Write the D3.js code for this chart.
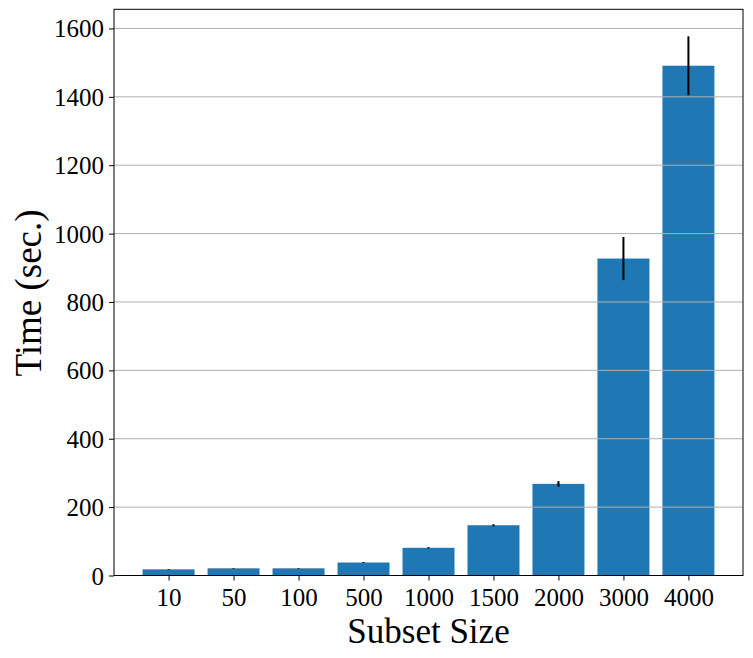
<!DOCTYPE html>
<html>
<head>
<meta charset="utf-8">
<script src="https://cdn.jsdelivr.net/npm/d3@7"></script>
<style>
html,body{margin:0;padding:0;background:#fff;}
svg{display:block;}
text{font-family:"Liberation Serif","Times New Roman",serif;fill:#000;}
</style>
</head>
<body>
<script>
const categories = ["10","50","100","500","1000","1500","2000","3000","4000"];
const times = [18, 21, 21, 38, 81, 147, 268, 927, 1491];
const errors = [1, 1, 1, 1.5, 2, 3, 8, 63, 86];
const yTicks = [0,200,400,600,800,1000,1200,1400,1600];

const W = 753, H = 658;
const mLeft = 114, mRight = 743, mTop = 9.3, mBottom = 575.5;

const svg = d3.select("body").append("svg").attr("width", W).attr("height", H);

const x = d3.scaleLinear().domain([-0.84, categories.length - 1 + 0.84]).range([mLeft, mRight]);
const y = d3.scaleLinear().domain([0, 1656]).range([mBottom, mTop]);
const bw = x(0.8) - x(0);

// bars
svg.append("g").selectAll("rect").data(times).join("rect")
  .attr("x", (d,i) => x(i) - bw/2)
  .attr("width", bw)
  .attr("y", d => y(d))
  .attr("height", d => y(0) - y(d))
  .attr("fill", "#1f77b4");

// grid
svg.append("g").selectAll("line").data(yTicks).join("line")
  .attr("x1", mLeft).attr("x2", mRight)
  .attr("y1", d => y(d)).attr("y2", d => y(d))
  .attr("stroke", "#b0b0b0").attr("stroke-width", 1);

// error bars
svg.append("g").selectAll("line").data(times).join("line")
  .attr("x1", (d,i) => x(i)).attr("x2", (d,i) => x(i))
  .attr("y1", (d,i) => y(d - errors[i])).attr("y2", (d,i) => y(d + errors[i]))
  .attr("stroke", "#000").attr("stroke-width", 2);

// axes
const yAxis = d3.axisLeft(y).tickValues(yTicks).tickSize(5).tickPadding(5).tickFormat(d3.format("d"));
const gy = svg.append("g").attr("transform", `translate(${mLeft},0)`).call(yAxis);
gy.select(".domain").remove();
gy.selectAll("text").attr("font-size", 25).attr("font-family", "Liberation Serif").attr("dy", "0.34em");
gy.selectAll("line").attr("stroke", "#000");

const xAxis = d3.axisBottom(x).tickValues(d3.range(categories.length)).tickFormat(i => categories[i]).tickSize(5).tickPadding(7);
const gx = svg.append("g").attr("transform", `translate(0,${mBottom})`).call(xAxis);
gx.select(".domain").remove();
gx.selectAll("text").attr("font-size", 25).attr("font-family", "Liberation Serif").attr("dy", "0.74em");
gx.selectAll("line").attr("stroke", "#000");

// frame
svg.append("rect").attr("x", mLeft).attr("y", mTop).attr("width", mRight-mLeft).attr("height", mBottom-mTop)
  .attr("fill", "none").attr("stroke", "#000").attr("stroke-width", 1);

// labels
svg.append("text").attr("x", (mLeft+mRight)/2).attr("y", 643).attr("text-anchor", "middle")
  .attr("font-size", 35).text("Subset Size");
svg.append("text").attr("transform", "translate(41,293) rotate(-90)").attr("text-anchor", "middle")
  .attr("font-size", 37).text("Time (sec.)");
</script>
</body>
</html>
